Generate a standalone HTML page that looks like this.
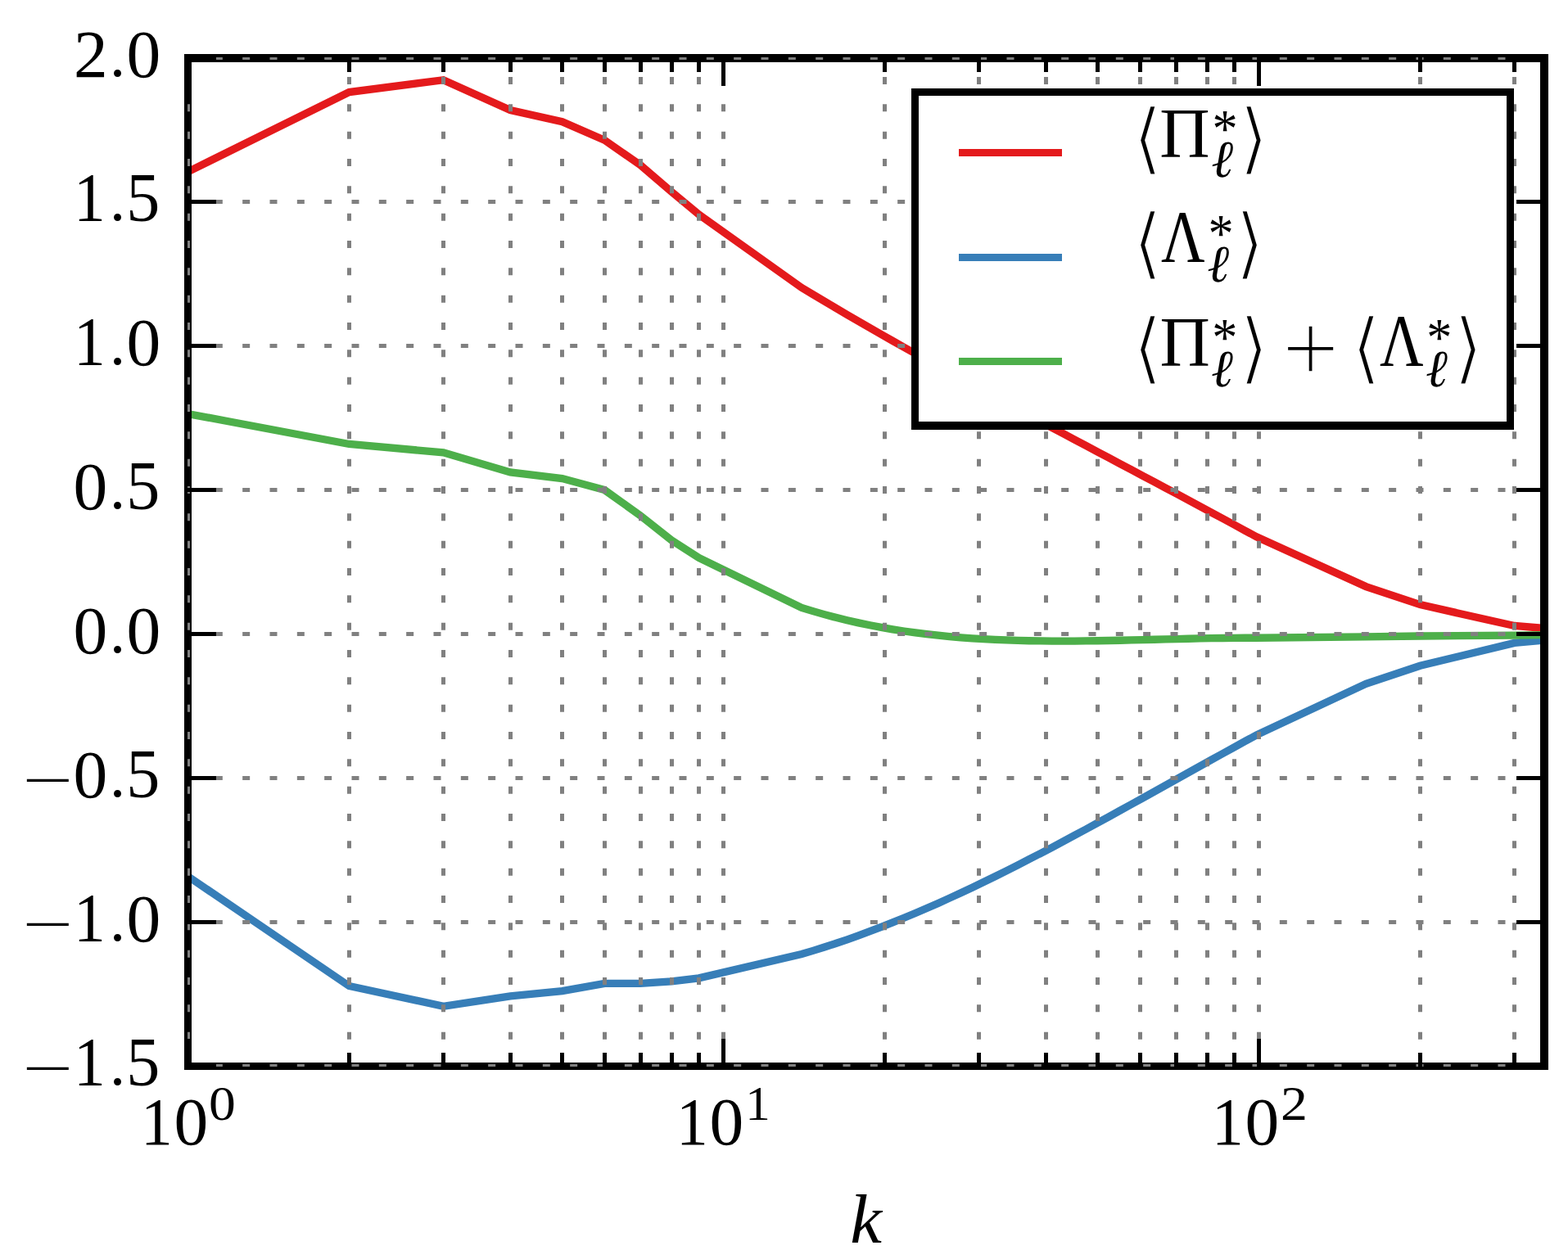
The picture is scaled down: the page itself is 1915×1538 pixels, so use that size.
<!DOCTYPE html>
<html lang="en"><head><meta charset="utf-8"><title>Scale-to-scale fluxes versus k</title>
<style>html,body{margin:0;padding:0;background:#fff}body{width:1915px;height:1538px;overflow:hidden}svg{display:block}text{fill:#000;white-space:pre}</style>
</head><body>
<svg width="1915" height="1538" viewBox="0 0 1915 1538">
<defs><clipPath id="ax"><rect x="229" y="70" width="1657" height="1233"/></clipPath></defs>
<rect width="1915" height="1538" fill="#fff"/>
<g clip-path="url(#ax)" fill="none" stroke-width="9.3" stroke-linejoin="miter" stroke-linecap="butt">
<polyline stroke="#e41a1c" points="229.5,209.9 426.37,112.6 541.54,97.7 623.25,134.5 686.63,148.7 738.41,171.3 782.19,201.7 820.12,234.2 853.57,262 979.07,351.43 992.96,359.81 1006.85,368.1 1020.74,376.32 1034.63,384.46 1048.51,392.53 1062.4,400.54 1076.29,408.48 1090.18,416.36 1104.07,424.18 1117.96,431.95 1131.85,439.67 1145.74,447.35 1159.63,454.98 1173.52,462.58 1187.41,470.14 1201.3,477.66 1215.19,485.16 1229.08,492.63 1242.97,500.08 1256.86,507.51 1270.75,514.92 1284.64,522.31 1298.52,529.7 1312.41,537.07 1326.3,544.44 1340.19,551.81 1354.08,559.17 1367.97,566.54 1381.86,573.91 1395.75,581.29 1409.64,588.67 1423.53,596.06 1437.42,603.47 1451.31,610.89 1465.2,618.33 1479.09,625.79 1492.98,633.27 1506.87,640.77 1520.76,648.3 1534.65,655.85 1668.32,716.6 1734.37,738.6 1849.54,764.5 1886,767.5"/>
<polyline stroke="#377eb8" points="229.5,1070.5 426.37,1204.5 541.54,1229.3 623.25,1216.9 686.63,1210.6 738.41,1201.4 782.19,1201.3 820.12,1198.9 853.57,1194.8 979.07,1165.48 992.96,1161.37 1006.85,1157.05 1020.74,1152.51 1034.63,1147.78 1048.51,1142.85 1062.4,1137.73 1076.29,1132.43 1090.18,1126.95 1104.07,1121.3 1117.96,1115.49 1131.85,1109.52 1145.74,1103.39 1159.63,1097.13 1173.52,1090.72 1187.41,1084.18 1201.3,1077.51 1215.19,1070.73 1229.08,1063.83 1242.97,1056.83 1256.86,1049.73 1270.75,1042.53 1284.64,1035.26 1298.52,1027.9 1312.41,1020.47 1326.3,1012.98 1340.19,1005.43 1354.08,997.83 1367.97,990.19 1381.86,982.51 1395.75,974.81 1409.64,967.08 1423.53,959.34 1437.42,951.6 1451.31,943.86 1465.2,936.13 1479.09,928.41 1492.98,920.72 1506.87,913.06 1520.76,905.45 1534.65,897.88 1668.32,835.4 1734.37,813.3 1849.54,785.4 1886,782"/>
<polyline stroke="#4daf4a" points="229.5,505.5 426.37,542.5 541.54,552.8 623.25,576.9 686.63,584.6 738.41,598.6 782.19,629.9 820.12,659.9 853.57,681.5 979.07,742.41 992.96,746.68 1006.85,750.65 1020.74,754.33 1034.63,757.74 1048.51,760.88 1062.4,763.77 1076.29,766.4 1090.18,768.81 1104.07,770.98 1117.96,772.94 1131.85,774.69 1145.74,776.24 1159.63,777.61 1173.52,778.79 1187.41,779.81 1201.3,780.68 1215.19,781.39 1229.08,781.96 1242.97,782.41 1256.86,782.74 1270.75,782.95 1284.64,783.07 1298.52,783.1 1312.41,783.05 1326.3,782.92 1340.19,782.74 1354.08,782.51 1367.97,782.23 1381.86,781.92 1395.75,781.59 1409.64,781.25 1423.53,780.91 1437.42,780.57 1451.31,780.25 1465.2,779.96 1479.09,779.7 1492.98,779.49 1506.87,779.34 1520.76,779.25 1534.65,779.23 1668.32,777.9 1734.37,777 1849.54,776.2 1886,775.7"/>
</g>
<path fill="#000" fill-rule="evenodd" shape-rendering="crispEdges" d="M225 66H1891V1307H225Z M234 76V1298H1881V76Z"/>
<g clip-path="url(#ax)" stroke="#808080" stroke-width="5" stroke-dasharray="9 24.333" fill="none">
<line x1="229.5" y1="1303" x2="229.5" y2="30.5"/>
<line x1="426.5" y1="1303" x2="426.5" y2="30.5"/>
<line x1="541.5" y1="1303" x2="541.5" y2="30.5"/>
<line x1="623.5" y1="1303" x2="623.5" y2="30.5"/>
<line x1="686.5" y1="1303" x2="686.5" y2="30.5"/>
<line x1="738.5" y1="1303" x2="738.5" y2="30.5"/>
<line x1="782.5" y1="1303" x2="782.5" y2="30.5"/>
<line x1="820.5" y1="1303" x2="820.5" y2="30.5"/>
<line x1="853.5" y1="1303" x2="853.5" y2="30.5"/>
<line x1="883.5" y1="1303" x2="883.5" y2="30.5"/>
<line x1="1080.5" y1="1303" x2="1080.5" y2="30.5"/>
<line x1="1195.5" y1="1303" x2="1195.5" y2="30.5"/>
<line x1="1277.5" y1="1303" x2="1277.5" y2="30.5"/>
<line x1="1340.5" y1="1303" x2="1340.5" y2="30.5"/>
<line x1="1392.5" y1="1303" x2="1392.5" y2="30.5"/>
<line x1="1436.5" y1="1303" x2="1436.5" y2="30.5"/>
<line x1="1474.5" y1="1303" x2="1474.5" y2="30.5"/>
<line x1="1507.5" y1="1303" x2="1507.5" y2="30.5"/>
<line x1="1537.5" y1="1303" x2="1537.5" y2="30.5"/>
<line x1="1734.5" y1="1303" x2="1734.5" y2="30.5"/>
<line x1="1849.5" y1="1303" x2="1849.5" y2="30.5"/>
<line x1="229.5" y1="70.5" x2="1926" y2="70.5"/>
<line x1="229.5" y1="246.5" x2="1926" y2="246.5"/>
<line x1="229.5" y1="422.5" x2="1926" y2="422.5"/>
<line x1="229.5" y1="598.5" x2="1926" y2="598.5"/>
<line x1="229.5" y1="774.5" x2="1926" y2="774.5"/>
<line x1="229.5" y1="950.5" x2="1926" y2="950.5"/>
<line x1="229.5" y1="1126.5" x2="1926" y2="1126.5"/>
<line x1="229.5" y1="1302.5" x2="1926" y2="1302.5"/>
</g>
<g fill="#000" shape-rendering="crispEdges">
<rect x="424" y="1286" width="5" height="17"/>
<rect x="424" y="70" width="5" height="18"/>
<rect x="539" y="1286" width="5" height="17"/>
<rect x="539" y="70" width="5" height="18"/>
<rect x="621" y="1286" width="5" height="17"/>
<rect x="621" y="70" width="5" height="18"/>
<rect x="684" y="1286" width="5" height="17"/>
<rect x="684" y="70" width="5" height="18"/>
<rect x="736" y="1286" width="5" height="17"/>
<rect x="736" y="70" width="5" height="18"/>
<rect x="780" y="1286" width="5" height="17"/>
<rect x="780" y="70" width="5" height="18"/>
<rect x="818" y="1286" width="5" height="17"/>
<rect x="818" y="70" width="5" height="18"/>
<rect x="851" y="1286" width="5" height="17"/>
<rect x="851" y="70" width="5" height="18"/>
<rect x="1078" y="1286" width="5" height="17"/>
<rect x="1078" y="70" width="5" height="18"/>
<rect x="1193" y="1286" width="5" height="17"/>
<rect x="1193" y="70" width="5" height="18"/>
<rect x="1275" y="1286" width="5" height="17"/>
<rect x="1275" y="70" width="5" height="18"/>
<rect x="1338" y="1286" width="5" height="17"/>
<rect x="1338" y="70" width="5" height="18"/>
<rect x="1390" y="1286" width="5" height="17"/>
<rect x="1390" y="70" width="5" height="18"/>
<rect x="1434" y="1286" width="5" height="17"/>
<rect x="1434" y="70" width="5" height="18"/>
<rect x="1472" y="1286" width="5" height="17"/>
<rect x="1472" y="70" width="5" height="18"/>
<rect x="1505" y="1286" width="5" height="17"/>
<rect x="1505" y="70" width="5" height="18"/>
<rect x="1732" y="1286" width="5" height="17"/>
<rect x="1732" y="70" width="5" height="18"/>
<rect x="1847" y="1286" width="5" height="17"/>
<rect x="1847" y="70" width="5" height="18"/>
<rect x="227" y="1269" width="5" height="34"/>
<rect x="227" y="70" width="5" height="35"/>
<rect x="881" y="1269" width="5" height="34"/>
<rect x="881" y="70" width="5" height="35"/>
<rect x="1535" y="1269" width="5" height="34"/>
<rect x="1535" y="70" width="5" height="35"/>
<rect x="229" y="68" width="35" height="5"/>
<rect x="1852" y="68" width="34" height="5"/>
<rect x="229" y="244" width="35" height="5"/>
<rect x="1852" y="244" width="34" height="5"/>
<rect x="229" y="420" width="35" height="5"/>
<rect x="1852" y="420" width="34" height="5"/>
<rect x="229" y="596" width="35" height="5"/>
<rect x="1852" y="596" width="34" height="5"/>
<rect x="229" y="772" width="35" height="5"/>
<rect x="1852" y="772" width="34" height="5"/>
<rect x="229" y="948" width="35" height="5"/>
<rect x="1852" y="948" width="34" height="5"/>
<rect x="229" y="1124" width="35" height="5"/>
<rect x="1852" y="1124" width="34" height="5"/>
<rect x="229" y="1300" width="35" height="5"/>
<rect x="1852" y="1300" width="34" height="5"/>
</g>
<g shape-rendering="crispEdges">
<rect x="1113" y="108" width="736" height="417" fill="#000"/>
<rect x="1122" y="117" width="718" height="398" fill="#fff"/>
<rect x="1171" y="182" width="126" height="9" fill="#e41a1c"/>
<rect x="1171" y="310" width="126" height="9" fill="#377eb8"/>
<rect x="1171" y="437" width="126" height="9" fill="#4daf4a"/>
</g>
<g>
<text><tspan x="1383.86" y="201.45" font-size="95.21" font-family='"DejaVu Serif", "DejaVu Sans", "Liberation Serif", serif' textLength="35.53" lengthAdjust="spacingAndGlyphs" stroke="#fff" stroke-width="2.6" stroke-linejoin="miter">⟨</tspan><tspan x="1416.35" y="192.1" font-size="86.29" font-family='"Liberation Serif", "DejaVu Serif", serif' textLength="61.34" lengthAdjust="spacingAndGlyphs">Π</tspan><tspan x="1480.46" y="178.8" font-size="64.9" font-family='"Liberation Serif", "DejaVu Serif", serif' textLength="31.12" lengthAdjust="spacingAndGlyphs">*</tspan><tspan x="1479.19" y="216.48" font-size="63.97" font-family='"Liberation Serif", "DejaVu Serif", serif' font-style="italic" textLength="26.62" lengthAdjust="spacingAndGlyphs">ℓ</tspan><tspan x="1513.61" y="201.45" font-size="95.21" font-family='"DejaVu Serif", "DejaVu Sans", "Liberation Serif", serif' textLength="35.53" lengthAdjust="spacingAndGlyphs" stroke="#fff" stroke-width="2.6" stroke-linejoin="miter">⟩</tspan></text>
<text><tspan x="1383.86" y="329.45" font-size="95.21" font-family='"DejaVu Serif", "DejaVu Sans", "Liberation Serif", serif' textLength="35.53" lengthAdjust="spacingAndGlyphs" stroke="#fff" stroke-width="2.6" stroke-linejoin="miter">⟨</tspan><tspan x="1418.08" y="320.1" font-size="91.34" font-family='"Liberation Serif", "DejaVu Serif", serif' textLength="53.68" lengthAdjust="spacingAndGlyphs">Λ</tspan><tspan x="1475.46" y="306.8" font-size="64.9" font-family='"Liberation Serif", "DejaVu Serif", serif' textLength="31.12" lengthAdjust="spacingAndGlyphs">*</tspan><tspan x="1474.19" y="344.48" font-size="63.97" font-family='"Liberation Serif", "DejaVu Serif", serif' font-style="italic" textLength="26.62" lengthAdjust="spacingAndGlyphs">ℓ</tspan><tspan x="1508.81" y="329.45" font-size="95.21" font-family='"DejaVu Serif", "DejaVu Sans", "Liberation Serif", serif' textLength="35.53" lengthAdjust="spacingAndGlyphs" stroke="#fff" stroke-width="2.6" stroke-linejoin="miter">⟩</tspan></text>
<text><tspan x="1383.86" y="456.65" font-size="95.21" font-family='"DejaVu Serif", "DejaVu Sans", "Liberation Serif", serif' textLength="35.53" lengthAdjust="spacingAndGlyphs" stroke="#fff" stroke-width="2.6" stroke-linejoin="miter">⟨</tspan><tspan x="1416.45" y="447.3" font-size="86.29" font-family='"Liberation Serif", "DejaVu Serif", serif' textLength="61.34" lengthAdjust="spacingAndGlyphs">Π</tspan><tspan x="1480.36" y="434" font-size="64.9" font-family='"Liberation Serif", "DejaVu Serif", serif' textLength="31.12" lengthAdjust="spacingAndGlyphs">*</tspan><tspan x="1479.09" y="471.68" font-size="63.97" font-family='"Liberation Serif", "DejaVu Serif", serif' font-style="italic" textLength="26.62" lengthAdjust="spacingAndGlyphs">ℓ</tspan><tspan x="1513.71" y="456.65" font-size="95.21" font-family='"DejaVu Serif", "DejaVu Sans", "Liberation Serif", serif' textLength="35.53" lengthAdjust="spacingAndGlyphs" stroke="#fff" stroke-width="2.6" stroke-linejoin="miter">⟩</tspan><tspan x="1565.65" y="467.44" font-size="123.44" font-family='"Liberation Serif", "DejaVu Serif", serif' textLength="69.69" lengthAdjust="spacingAndGlyphs" stroke="#fff" stroke-width="2.4" stroke-linejoin="miter">+</tspan><tspan x="1650.76" y="456.65" font-size="95.21" font-family='"DejaVu Serif", "DejaVu Sans", "Liberation Serif", serif' textLength="35.53" lengthAdjust="spacingAndGlyphs" stroke="#fff" stroke-width="2.6" stroke-linejoin="miter">⟨</tspan><tspan x="1685.08" y="447.3" font-size="91.34" font-family='"Liberation Serif", "DejaVu Serif", serif' textLength="53.68" lengthAdjust="spacingAndGlyphs">Λ</tspan><tspan x="1742.36" y="434" font-size="64.9" font-family='"Liberation Serif", "DejaVu Serif", serif' textLength="31.12" lengthAdjust="spacingAndGlyphs">*</tspan><tspan x="1740.99" y="471.68" font-size="63.97" font-family='"Liberation Serif", "DejaVu Serif", serif' font-style="italic" textLength="26.62" lengthAdjust="spacingAndGlyphs">ℓ</tspan><tspan x="1775.41" y="456.65" font-size="95.21" font-family='"DejaVu Serif", "DejaVu Sans", "Liberation Serif", serif' textLength="35.53" lengthAdjust="spacingAndGlyphs" stroke="#fff" stroke-width="2.6" stroke-linejoin="miter">⟩</tspan></text>
</g>
<g font-family='"Liberation Serif", "DejaVu Serif", serif' font-size="83">
<text><tspan x="90.14" y="94.1" font-size="83.07" font-family='"Liberation Serif", "DejaVu Serif", serif' textLength="41.66" lengthAdjust="spacingAndGlyphs">2</tspan><tspan x="133.98" y="93.42" font-size="76.17" font-family='"Liberation Serif", "DejaVu Serif", serif' textLength="19.04" lengthAdjust="spacingAndGlyphs">.</tspan><tspan x="154.52" y="94.29" font-size="83.28" font-family='"Liberation Serif", "DejaVu Serif", serif' textLength="41.76" lengthAdjust="spacingAndGlyphs">0</tspan></text>
<text><tspan x="89.98" y="270.1" font-size="83.92" font-family='"Liberation Serif", "DejaVu Serif", serif' textLength="38.77" lengthAdjust="spacingAndGlyphs">1</tspan><tspan x="133.98" y="269.42" font-size="76.17" font-family='"Liberation Serif", "DejaVu Serif", serif' textLength="19.04" lengthAdjust="spacingAndGlyphs">.</tspan><tspan x="154.13" y="270.28" font-size="84.27" font-family='"Liberation Serif", "DejaVu Serif", serif' textLength="41.08" lengthAdjust="spacingAndGlyphs">5</tspan></text>
<text><tspan x="89.98" y="446.1" font-size="83.92" font-family='"Liberation Serif", "DejaVu Serif", serif' textLength="38.77" lengthAdjust="spacingAndGlyphs">1</tspan><tspan x="133.98" y="445.42" font-size="76.17" font-family='"Liberation Serif", "DejaVu Serif", serif' textLength="19.04" lengthAdjust="spacingAndGlyphs">.</tspan><tspan x="154.52" y="446.29" font-size="83.28" font-family='"Liberation Serif", "DejaVu Serif", serif' textLength="41.76" lengthAdjust="spacingAndGlyphs">0</tspan></text>
<text><tspan x="89.52" y="622.29" font-size="83.28" font-family='"Liberation Serif", "DejaVu Serif", serif' textLength="41.76" lengthAdjust="spacingAndGlyphs">0</tspan><tspan x="133.98" y="621.42" font-size="76.17" font-family='"Liberation Serif", "DejaVu Serif", serif' textLength="19.04" lengthAdjust="spacingAndGlyphs">.</tspan><tspan x="154.13" y="622.28" font-size="84.27" font-family='"Liberation Serif", "DejaVu Serif", serif' textLength="41.08" lengthAdjust="spacingAndGlyphs">5</tspan></text>
<text><tspan x="89.52" y="798.29" font-size="83.28" font-family='"Liberation Serif", "DejaVu Serif", serif' textLength="41.76" lengthAdjust="spacingAndGlyphs">0</tspan><tspan x="133.98" y="797.42" font-size="76.17" font-family='"Liberation Serif", "DejaVu Serif", serif' textLength="19.04" lengthAdjust="spacingAndGlyphs">.</tspan><tspan x="154.52" y="798.29" font-size="83.28" font-family='"Liberation Serif", "DejaVu Serif", serif' textLength="41.76" lengthAdjust="spacingAndGlyphs">0</tspan></text>
<text><tspan x="27.54" y="975.97" font-size="68.27" font-family='"Liberation Serif", "DejaVu Serif", serif' textLength="61.81" lengthAdjust="spacingAndGlyphs">−</tspan><tspan x="89.52" y="974.29" font-size="83.28" font-family='"Liberation Serif", "DejaVu Serif", serif' textLength="41.76" lengthAdjust="spacingAndGlyphs">0</tspan><tspan x="133.98" y="973.42" font-size="76.17" font-family='"Liberation Serif", "DejaVu Serif", serif' textLength="19.04" lengthAdjust="spacingAndGlyphs">.</tspan><tspan x="154.13" y="974.28" font-size="84.27" font-family='"Liberation Serif", "DejaVu Serif", serif' textLength="41.08" lengthAdjust="spacingAndGlyphs">5</tspan></text>
<text><tspan x="27.54" y="1151.97" font-size="68.27" font-family='"Liberation Serif", "DejaVu Serif", serif' textLength="61.81" lengthAdjust="spacingAndGlyphs">−</tspan><tspan x="89.98" y="1150.1" font-size="83.92" font-family='"Liberation Serif", "DejaVu Serif", serif' textLength="38.77" lengthAdjust="spacingAndGlyphs">1</tspan><tspan x="133.98" y="1149.42" font-size="76.17" font-family='"Liberation Serif", "DejaVu Serif", serif' textLength="19.04" lengthAdjust="spacingAndGlyphs">.</tspan><tspan x="154.52" y="1150.29" font-size="83.28" font-family='"Liberation Serif", "DejaVu Serif", serif' textLength="41.76" lengthAdjust="spacingAndGlyphs">0</tspan></text>
<text><tspan x="27.54" y="1327.97" font-size="68.27" font-family='"Liberation Serif", "DejaVu Serif", serif' textLength="61.81" lengthAdjust="spacingAndGlyphs">−</tspan><tspan x="89.98" y="1326.1" font-size="83.92" font-family='"Liberation Serif", "DejaVu Serif", serif' textLength="38.77" lengthAdjust="spacingAndGlyphs">1</tspan><tspan x="133.98" y="1325.42" font-size="76.17" font-family='"Liberation Serif", "DejaVu Serif", serif' textLength="19.04" lengthAdjust="spacingAndGlyphs">.</tspan><tspan x="154.13" y="1326.28" font-size="84.27" font-family='"Liberation Serif", "DejaVu Serif", serif' textLength="41.08" lengthAdjust="spacingAndGlyphs">5</tspan></text>
<text><tspan x="172.08" y="1398" font-size="83.47" font-family='"Liberation Serif", "DejaVu Serif", serif' textLength="38.77" lengthAdjust="spacingAndGlyphs">1</tspan><tspan x="212.62" y="1398.19" font-size="83.14" font-family='"Liberation Serif", "DejaVu Serif", serif' textLength="41.76" lengthAdjust="spacingAndGlyphs">0</tspan><tspan x="255.1" y="1368.32" font-size="59.42" font-family='"Liberation Serif", "DejaVu Serif", serif' textLength="32.8" lengthAdjust="spacingAndGlyphs">0</tspan></text>
<text><tspan x="826.08" y="1398" font-size="83.47" font-family='"Liberation Serif", "DejaVu Serif", serif' textLength="38.77" lengthAdjust="spacingAndGlyphs">1</tspan><tspan x="866.62" y="1398.19" font-size="83.14" font-family='"Liberation Serif", "DejaVu Serif", serif' textLength="41.76" lengthAdjust="spacingAndGlyphs">0</tspan><tspan x="910.33" y="1368.3" font-size="59.83" font-family='"Liberation Serif", "DejaVu Serif", serif' textLength="30.54" lengthAdjust="spacingAndGlyphs">1</tspan></text>
<text><tspan x="1480.08" y="1398" font-size="83.47" font-family='"Liberation Serif", "DejaVu Serif", serif' textLength="38.77" lengthAdjust="spacingAndGlyphs">1</tspan><tspan x="1520.62" y="1398.19" font-size="83.14" font-family='"Liberation Serif", "DejaVu Serif", serif' textLength="41.76" lengthAdjust="spacingAndGlyphs">0</tspan><tspan x="1563.91" y="1368.3" font-size="59.66" font-family='"Liberation Serif", "DejaVu Serif", serif' textLength="32.93" lengthAdjust="spacingAndGlyphs">2</tspan></text>
</g>
<text><tspan x="1038.19" y="1518" font-size="85.03" font-family='"Liberation Serif", "DejaVu Serif", serif' font-style="italic" textLength="38.74" lengthAdjust="spacingAndGlyphs">k</tspan></text>
</svg>
</body></html>
